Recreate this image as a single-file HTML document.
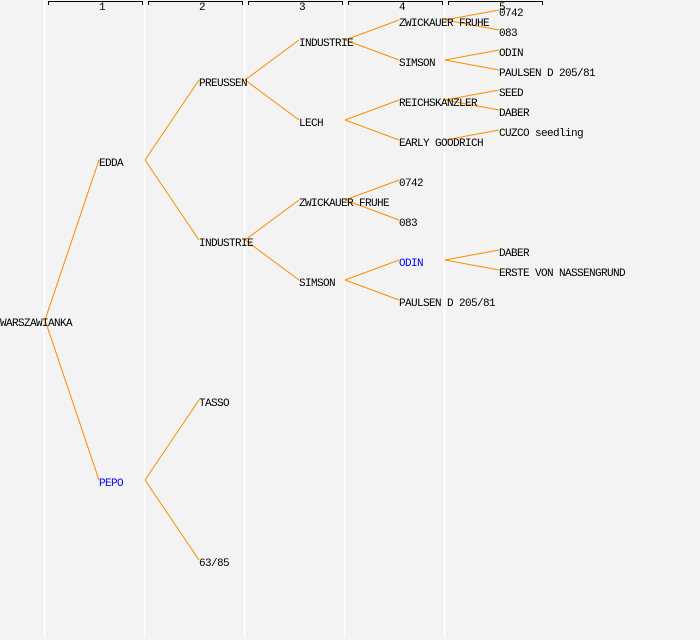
<!DOCTYPE html>
<html><head><meta charset="utf-8"><style>
html,body{margin:0;padding:0;background:#f3f3f3;overflow:hidden}
svg{display:block}
svg text{font-family:"Liberation Mono","DejaVu Sans Mono",monospace;font-size:11px;letter-spacing:-0.6px;dominant-baseline:central}
</style></head><body>
<svg width="700" height="640" xmlns="http://www.w3.org/2000/svg">
<rect width="700" height="640" fill="#f3f3f3"/>
<g stroke="#ffffff" stroke-width="1.5">
<line x1="44.5" y1="0" x2="44.5" y2="638"/><line x1="144.5" y1="0" x2="144.5" y2="638"/><line x1="244.5" y1="0" x2="244.5" y2="638"/><line x1="344.5" y1="0" x2="344.5" y2="638"/><line x1="444.5" y1="0" x2="444.5" y2="638"/>
</g>
<g stroke="#000" fill="none" stroke-width="1">
<path d="M48.5,5V1.5H142.5V5"/><path d="M148.5,5V1.5H242.5V5"/><path d="M248.5,5V1.5H342.5V5"/><path d="M348.5,5V1.5H442.5V5"/><path d="M448.5,5V1.5H542.5V5"/>
</g>
<g style="font-size:8px;letter-spacing:0" text-anchor="middle">
<text x="102" y="8">1</text><text x="202" y="8">2</text><text x="302" y="8">3</text><text x="402" y="8">4</text><text x="502" y="8">5</text>
</g>
<g stroke="#ff8c00" stroke-width="1" fill="none">
<path d="M45,320L99,160M45,320L99,480"/>
<path d="M145,160L199,80M145,160L199,240M145,480L199,400M145,480L199,560"/>
<path d="M245,80L299,40M245,80L299,120M245,240L299,200M245,240L299,280"/>
<path d="M345,40L399,20M345,40L399,60M345,120L399,100M345,120L399,140M345,200L399,180M345,200L399,220M345,280L399,260M345,280L399,300"/>
<path d="M445,20L499,10M445,20L499,30M445,60L499,50M445,60L499,70M445,100L499,90M445,100L499,110M445,140L499,130M445,260L499,250M445,260L499,270"/>
</g>
<g fill="#000" transform="translate(0,2)">
<text x="0" y="322">WARSZAWIANKA</text>
<text x="99" y="162">EDDA</text><text x="99" y="482" fill="#0000ff">PEPO</text>
<text x="199" y="82">PREUSSEN</text><text x="199" y="242">INDUSTRIE</text><text x="199" y="402">TASSO</text><text x="199" y="562">63/85</text>
<text x="299" y="42">INDUSTRIE</text><text x="299" y="122">LECH</text><text x="299" y="202">ZWICKAUER FRUHE</text><text x="299" y="282">SIMSON</text>
<text x="399" y="22">ZWICKAUER FRUHE</text><text x="399" y="62">SIMSON</text><text x="399" y="102">REICHSKANZLER</text><text x="399" y="142">EARLY GOODRICH</text><text x="399" y="182">0742</text><text x="399" y="222">083</text><text x="399" y="262" fill="#0000ff">ODIN</text><text x="399" y="302">PAULSEN D 205/81</text>
<text x="499" y="12">0742</text><text x="499" y="32">083</text><text x="499" y="52">ODIN</text><text x="499" y="72">PAULSEN D 205/81</text><text x="499" y="92">SEED</text><text x="499" y="112">DABER</text><text x="499" y="132">CUZCO seedling</text><text x="499" y="252">DABER</text><text x="499" y="272">ERSTE VON NASSENGRUND</text>
</g>
</svg>
</body></html>
